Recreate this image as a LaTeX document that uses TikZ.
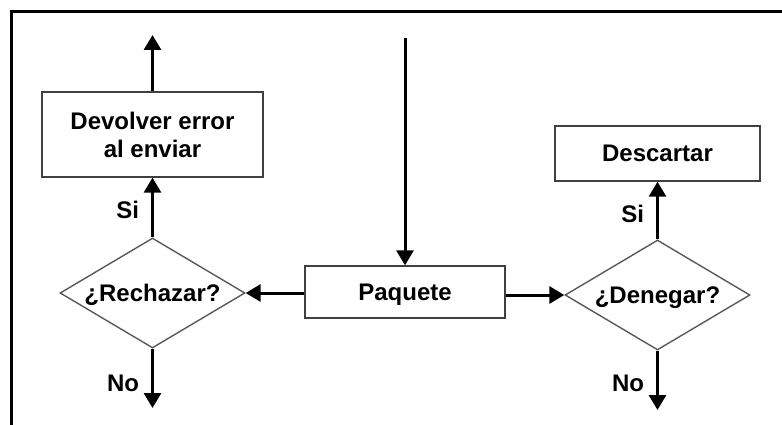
\documentclass[tikz,border=0pt]{standalone}
\usepackage{fontspec}
\setmainfont{Liberation Sans}
\usetikzlibrary{shapes.geometric,arrows.meta}
\begin{document}
\begin{tikzpicture}[x=1pt,y=-1pt,
  every node/.style={font=\fontsize{24}{28}\selectfont\bfseries},
  oneline/.style={text height=17pt,text depth=0pt},
  box/.style={draw=black!75,line width=1.4pt,rectangle,inner sep=0pt,align=center},
  decision/.style={draw=black!65,line width=1.4pt,diamond,shape aspect=1.68,inner sep=0pt,
    minimum width=185pt,minimum height=110pt,oneline},
  flow/.style={line width=3pt,-{Triangle[length=15pt,width=17pt]}},
  lbl/.style={inner xsep=12pt,inner ysep=0pt,oneline}]
\useasboundingbox (0,0) rectangle (782,425);

% open frame: top and left sides only
\draw[line width=3pt] (782,12) -- (11,12) -- (11,425);

% nodes
\node[box,oneline,minimum width=200pt,minimum height=52pt] (paq) at (405,292) {Paquete};
\node[decision] (rech) at (152.5,293) {\makebox[0pt]{¿Rechazar?}};
\node[decision] (den) at (657.5,295) {\makebox[0pt]{¿Denegar?}};
\node[box,minimum width=221pt,minimum height=85pt] (err) at (152.5,134.5) {Devolver error\\al enviar};
\node[box,oneline,minimum width=205pt,minimum height=55pt] (desc) at (657.5,153.5) {Descartar};

% free ends of the open connectors
\coordinate (in) at (405,38);
\coordinate (errout) at (152.5,35);
\coordinate (rechno) at (152.5,408);
\coordinate (denno) at (657.5,410);

% connectors
\draw[flow] (in) -- (paq.north);
\draw[flow] (paq.west |- rech) -- (rech.east);
\draw[flow] (paq.east |- den) -- (den.west);
\draw[flow] (rech.north) -- node[lbl,left,pos=0.46] {Si} (err.south);
\draw[flow] (err.north) -- (errout);
\draw[flow] (rech.south) -- node[lbl,left,pos=0.58] {No} (rechno);
\draw[flow] (den.north) -- node[lbl,left,pos=0.44] {Si} (desc.south);
\draw[flow] (den.south) -- node[lbl,left,pos=0.55] {No} (denno);
\end{tikzpicture}
\end{document}
